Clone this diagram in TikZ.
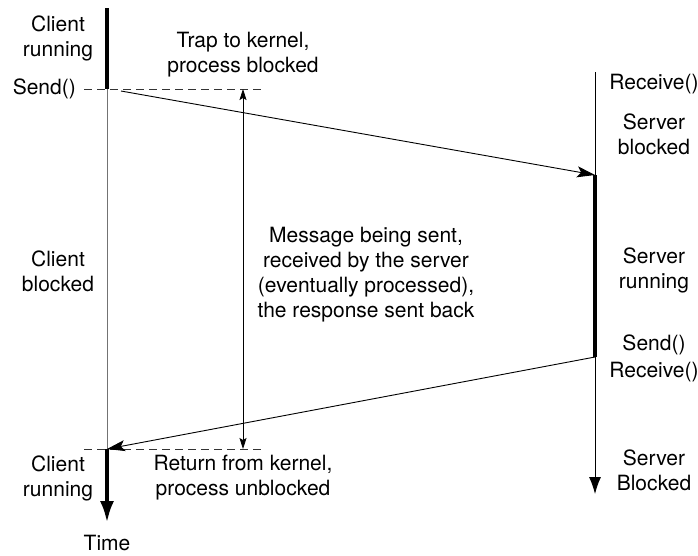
\documentclass[tikz,border=0pt]{standalone}
\usepackage{fontspec}
\setmainfont{TeX Gyre Heros}
\usetikzlibrary{arrows.meta}
\begin{document}
\begin{tikzpicture}[x=1pt,y=-1pt,
  lbl/.style={align=center, inner sep=0pt, font=\fontsize{21}{25}\selectfont},
  runline/.style={line width=4pt},
  waitline/.style={line width=0.9pt},
  msg/.style={line width=0.9pt, -{Stealth[length=18pt,width=11pt,inset=4pt]}},
  span/.style={line width=0.8pt, {Stealth[length=11pt,width=7pt,inset=2pt]}-{Stealth[length=11pt,width=7pt,inset=2pt]}},
  guide/.style={dash pattern=on 8pt off 5pt, line width=0.8pt, black!80},
]
\useasboundingbox (0,0) rectangle (698,555);

% client time line
\coordinate (ctop)  at (107,8);
\coordinate (csend) at (107,89);
\coordinate (cret)  at (107,449);
\coordinate (cend)  at (107,523);
% server time line
\coordinate (stop)  at (595,72);
\coordinate (srecv) at (595,175);
\coordinate (ssend) at (595,357);
\coordinate (send)  at (595,494);
% message start, kernel guides and span marker
\coordinate (mstart) at (121,91);
\coordinate (g1a) at (84,89);  \coordinate (g1b) at (263,89);
\coordinate (g2a) at (84,449); \coordinate (g2b) at (263,449);
\coordinate (sp1) at (243,89); \coordinate (sp2) at (243,449);

% guides
\draw[guide] (g1a) -- (g1b);
\draw[guide] (g2a) -- (g2b);

% client
\draw[runline] (ctop) -- (csend);
\draw[black!55, line width=1pt] (csend) -- (cret);
\draw[runline, -{Latex[length=22pt,width=14pt]}] (cret) -- (cend);

% server
\draw[waitline] (stop) -- (srecv);
\draw[runline] (srecv) -- (ssend);
\draw[waitline, -{Latex[length=17pt,width=12pt]}] (ssend) -- (send);

% messages
\draw[msg] (mstart) -- (srecv);
\draw[msg] (ssend) -- (cret);

% duration marker
\draw[span] (sp1) -- (sp2);

% labels
\node[lbl] (crun1) at (58,38) {Client\\running};
\node[lbl, anchor=east] (csendl) at (76,89) {Send()};
\node[lbl] (trap) at (243,55) {Trap to kernel,\\process blocked};
\node[lbl] (srecvl) at (654,84) {Receive()};
\node[lbl] (sblk) at (654,134) {Server\\blocked};
\node[lbl] (cblk) at (58,271) {Client\\blocked};
\node[lbl] (mtext) at (366,275) {Message being sent,\\received by the server\\(eventually processed),\\the response sent back};
\node[lbl] (srun) at (654,270) {Server\\running};
\node[lbl, font=\fontsize{21}{27}\selectfont] (ssr) at (654,358) {Send()\\Receive()};
\node[lbl] (crun2) at (58,478) {Client\\running};
\node[lbl] (ret) at (243,478) {Return from kernel,\\process unblocked};
\node[lbl] (sblk2) at (654,470) {Server\\Blocked};
\node[lbl, anchor=south] (time) at (107,551) {Time};
\end{tikzpicture}
\end{document}
